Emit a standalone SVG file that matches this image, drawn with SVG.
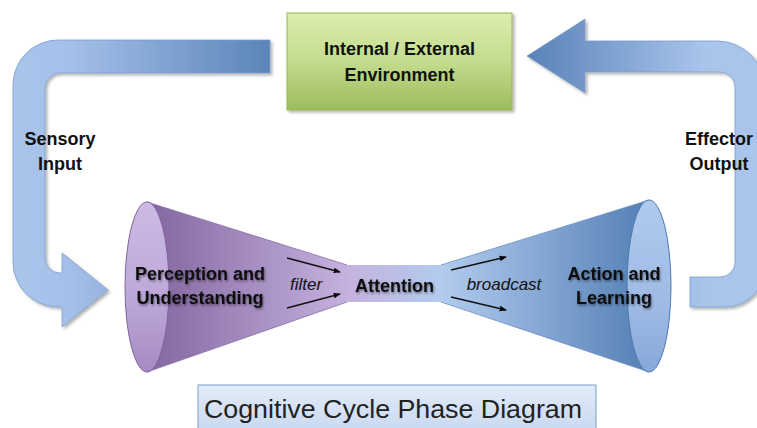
<svg xmlns="http://www.w3.org/2000/svg" width="757" height="428" viewBox="0 0 757 428">
<defs>
  <linearGradient id="gLeftArrow" gradientUnits="userSpaceOnUse" x1="13" y1="0" x2="270" y2="0">
    <stop offset="0" stop-color="#aac5ec"/>
    <stop offset="0.2" stop-color="#a6c1e9"/>
    <stop offset="1" stop-color="#5a85b9"/>
  </linearGradient>
  <linearGradient id="gRightArrow" gradientUnits="userSpaceOnUse" x1="527" y1="0" x2="765" y2="0">
    <stop offset="0" stop-color="#5882b7"/>
    <stop offset="0.75" stop-color="#aac5ec"/>
    <stop offset="1" stop-color="#aac5ec"/>
  </linearGradient>
  <linearGradient id="gEnv" x1="0" y1="0" x2="0" y2="1">
    <stop offset="0" stop-color="#dbeeb0"/>
    <stop offset="0.5" stop-color="#c3dc8e"/>
    <stop offset="1" stop-color="#9cbc5c"/>
  </linearGradient>
  <linearGradient id="gPurpleBody" gradientUnits="userSpaceOnUse" x1="150" y1="0" x2="347" y2="0">
    <stop offset="0" stop-color="#8367a1"/>
    <stop offset="1" stop-color="#c5b1de"/>
  </linearGradient>
  <linearGradient id="gPurpleFace" x1="0" y1="0" x2="0" y2="1">
    <stop offset="0" stop-color="#cdbbe4"/>
    <stop offset="0.6" stop-color="#bca6d8"/>
    <stop offset="1" stop-color="#a48ac2"/>
  </linearGradient>
  <linearGradient id="gNeck" gradientUnits="userSpaceOnUse" x1="346" y1="0" x2="441" y2="0">
    <stop offset="0" stop-color="#c6b2de"/>
    <stop offset="1" stop-color="#b2cbee"/>
  </linearGradient>
  <linearGradient id="gBlueBody" gradientUnits="userSpaceOnUse" x1="441" y1="0" x2="640" y2="0">
    <stop offset="0" stop-color="#b2cbee"/>
    <stop offset="1" stop-color="#5883b8"/>
  </linearGradient>
  <linearGradient id="gBlueFace" x1="0" y1="0" x2="0" y2="1">
    <stop offset="0" stop-color="#b0caee"/>
    <stop offset="0.6" stop-color="#9fbbe5"/>
    <stop offset="1" stop-color="#86a8d8"/>
  </linearGradient>
  <linearGradient id="gTitle" x1="0" y1="0" x2="0" y2="1">
    <stop offset="0" stop-color="#e3ecf8"/>
    <stop offset="1" stop-color="#c6d7ef"/>
  </linearGradient>
  <filter id="shadow" x="-10%" y="-10%" width="130%" height="130%">
    <feDropShadow dx="2" dy="2" stdDeviation="1.5" flood-color="#000" flood-opacity="0.3"/>
  </filter>
  <filter id="textGlow" x="-10%" y="-30%" width="120%" height="160%">
    <feDropShadow dx="1" dy="1.5" stdDeviation="1.3" flood-color="#000" flood-opacity="0.45"/>
  </filter>
  <marker id="arrowHead" viewBox="0 0 10 10" refX="9" refY="5" markerWidth="7" markerHeight="7" orient="auto" markerUnits="userSpaceOnUse">
    <path d="M0,1 L10,5 L0,9 Z" fill="#000"/>
  </marker>
</defs>
<style>
  .lbl { font-family: "Liberation Sans", Arial, sans-serif; font-weight: bold; font-size: 18px; fill: #111; text-anchor: middle; }
  .ital { font-family: "Liberation Sans", Arial, sans-serif; font-style: italic; font-size: 17px; fill: #111; text-anchor: middle; }
  .bigArrow { stroke: #7b9ccc; stroke-width: 0.8; }
  .small { stroke: #111; stroke-width: 1.3; fill: none; marker-end: url(#arrowHead); }
  .edgeP { stroke: #8d74aa; stroke-width: 0.8; fill: none; }
  .edgeB { stroke: #6f94c5; stroke-width: 0.8; fill: none; }
</style>

<g id="connectors">
  <path id="sensory-input" class="bigArrow" fill="url(#gLeftArrow)" filter="url(#shadow)"
        d="M270,40 L58,40 A45,45 0 0 0 13,85 L13,262 A45,45 0 0 0 58,307 L62,307 L62,327 L108,290 L62,253 L62,273 L60,273 A15,15 0 0 1 45,258 L45,88 A15,15 0 0 1 60,73 L270,73 Z"/>
  <path id="effector-output" class="bigArrow" fill="url(#gRightArrow)" filter="url(#shadow)"
        d="M527,56 L585,19 L585,41 L717,41 A48,48 0 0 1 765,89 L765,267 A40,40 0 0 1 725,307 L690,307 L690,277 L720,277 A15,15 0 0 0 735,262 L735,87 A15,15 0 0 0 720,72 L585,72 L585,93 Z"/>
  <text class="lbl" x="60" y="145">Sensory</text>
  <text class="lbl" x="60" y="170">Input</text>
  <text class="lbl" x="719" y="145">Effector</text>
  <text class="lbl" x="719" y="170">Output</text>
</g>

<g id="node-environment">
  <rect x="287" y="13" width="225" height="97" fill="url(#gEnv)" stroke="#98b75a" stroke-width="1" filter="url(#shadow)"/>
  <text class="lbl" x="399.5" y="55" font-size="19">Internal / External</text>
  <text class="lbl" x="399.5" y="81" font-size="19">Environment</text>
</g>

<g id="node-attention">
  <rect x="345" y="265" width="97" height="37" fill="url(#gNeck)"/>
  <text class="lbl" x="394.5" y="292" font-size="19" filter="url(#textGlow)">Attention</text>
</g>

<g id="node-perception">
  <path d="M147,202 L347.5,265 L347.5,302 L147,372 Z" fill="url(#gPurpleBody)"/>
  <path class="edgeP" d="M147,202 L347,265 M147,372 L347,302"/>
  <ellipse cx="147" cy="287" rx="22" ry="85" fill="url(#gPurpleFace)" stroke="#7e639d" stroke-width="1"/>
  <text class="lbl" x="200" y="280" filter="url(#textGlow)">Perception and</text>
  <text class="lbl" x="200" y="304" filter="url(#textGlow)">Understanding</text>
</g>

<g id="node-action">
  <path d="M440.5,265 L649,200 L649,372 L440.5,302 Z" fill="url(#gBlueBody)"/>
  <path class="edgeB" d="M441,265 L649,200 M441,302 L649,372"/>
  <ellipse cx="649" cy="286" rx="22" ry="86" fill="url(#gBlueFace)" stroke="#4e79ae" stroke-width="1"/>
  <text class="lbl" x="614" y="280" filter="url(#textGlow)">Action and</text>
  <text class="lbl" x="614" y="304" filter="url(#textGlow)">Learning</text>
</g>

<g id="flow-arrows">
  <line class="small" x1="287" y1="258" x2="340" y2="272"/>
  <line class="small" x1="287" y1="308" x2="340" y2="294"/>
  <text class="ital" x="306" y="290">filter</text>
  <line class="small" x1="451" y1="270" x2="506" y2="257"/>
  <line class="small" x1="451" y1="297" x2="506" y2="310"/>
  <text class="ital" x="504" y="290">broadcast</text>
</g>

<g id="node-title">
  <rect x="198" y="385" width="398" height="50" fill="url(#gTitle)" stroke="#7b9dca" stroke-width="1"/>
  <text x="393" y="418" font-family="'Liberation Sans', Arial, sans-serif" font-size="26" fill="#222" text-anchor="middle" textLength="378" lengthAdjust="spacingAndGlyphs">Cognitive Cycle Phase Diagram</text>
</g>
</svg>
